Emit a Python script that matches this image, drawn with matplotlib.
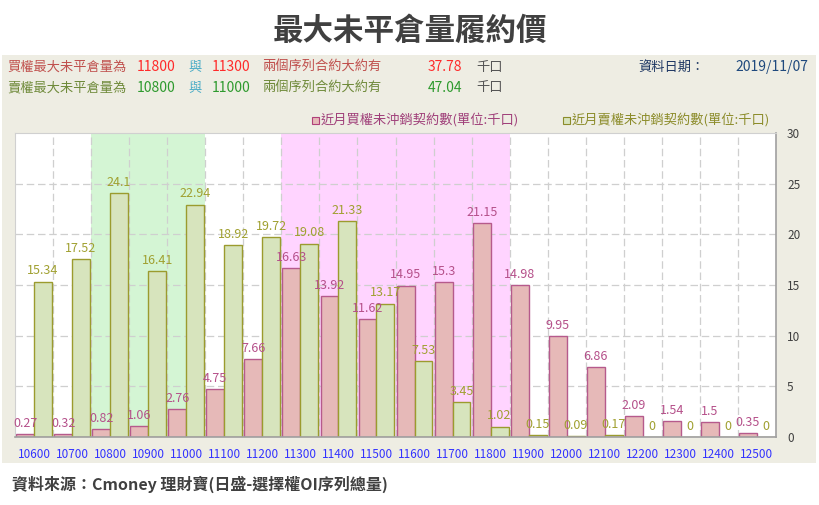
import numpy as np
import matplotlib
matplotlib.use("Agg")
import matplotlib.pyplot as plt
from matplotlib.patches import Rectangle

plt.rcParams['font.family'] = ['Noto Sans CJK TC', 'DejaVu Sans']

strikes = ['10600', '10700', '10800', '10900', '11000', '11100', '11200',
           '11300', '11400', '11500', '11600', '11700', '11800', '11900',
           '12000', '12100', '12200', '12300', '12400', '12500']
call_oi = [0.27, 0.32, 0.82, 1.06, 2.76, 4.75, 7.66, 16.63, 13.92, 11.62,
           14.95, 15.3, 21.15, 14.98, 9.95, 6.86, 2.09, 1.54, 1.5, 0.35]
put_oi = [15.34, 17.52, 24.1, 16.41, 22.94, 18.92, 19.72, 19.08, 21.33, 13.17,
          7.53, 3.45, 1.02, 0.15, 0.09, 0.17, 0, 0, 0, 0]

call_max = ('11800', '11300')
put_max = ('10800', '11000')
call_total, put_total = '37.78', '47.04'

W, H = 820, 505
fig = plt.figure(figsize=(W / 100, H / 100), dpi=100)


def px(x, y):
    return x / W, 1 - y / H


def txt(x, y, s, color, size=9.5, **kw):
    fig.text(*px(x, y), s, color=color, fontsize=size, va='center', **kw)


# beige panel behind the chart
fig.patches.append(Rectangle(px(2, 463), 814 / W, 408 / H, transform=fig.transFigure,
                             facecolor='#EEEDE3', edgecolor='none', zorder=-5))

fig.text(0.5, px(0, 31)[1], '最大未平倉量履約價', ha='center', va='center',
         fontsize=22, fontweight='bold', color='#404040')

# header lines
red_txt, red_num = '#C0504D', '#FF2A2A'
grn_txt, grn_num = '#6F8A3A', '#2E9A2E'
txt(7, 67, '買權最大未平倉量為', red_txt)
txt(137, 67, call_max[0], red_num, 10)
txt(188, 67, '與', '#4BACC6')
txt(212, 67, call_max[1], red_num, 10)
txt(262, 67, '兩個序列合約大約有', red_txt)
txt(428, 67, call_total, red_num, 10)
txt(476, 67, '千口', '#555555')
txt(638, 67, '資料日期：', '#1F3864')
txt(735, 67, '2019/11/07', '#1F497D', 10)

txt(7, 88, '賣權最大未平倉量為', grn_txt)
txt(137, 88, put_max[0], grn_num, 10)
txt(188, 88, '與', '#4BACC6')
txt(212, 88, put_max[1], grn_num, 10)
txt(262, 88, '兩個序列合約大約有', grn_txt)
txt(428, 88, put_total, grn_num, 10)
txt(476, 88, '千口', '#555555')

# legend
fig.patches.append(Rectangle(px(312, 124), 7 / W, 7 / H, transform=fig.transFigure,
                             facecolor='#E6B9B8', edgecolor='#B0407A', lw=0.8))
txt(321, 120, '近月買權未沖銷契約數(單位:千口)', '#A0407A', 9.5)
fig.patches.append(Rectangle(px(563, 124), 7 / W, 7 / H, transform=fig.transFigure,
                             facecolor='#D7E4BD', edgecolor='#8C8C2A', lw=0.8))
txt(572, 120, '近月賣權未沖銷契約數(單位:千口)', '#8C8C2A', 9.5)

txt(12, 484, '資料來源：Cmoney 理財寶(日盛-選擇權OI序列總量)', '#404040', 11.5,
    fontweight='bold')

# plot area
l, b = px(15, 437)
ax = fig.add_axes([l, b, (776 - 15) / W, (437 - 133) / H], zorder=2)
ax.set_facecolor('white')

x = np.arange(len(strikes))
pi = sorted(strikes.index(s) for s in put_max)
ci = sorted(strikes.index(s) for s in call_max)
ax.axvspan(pi[0] - 0.5, pi[1] + 0.5, color='#D4F5D4', zorder=0, lw=0)
ax.axvspan(ci[0] - 0.5, ci[1] + 0.5, color='#FFD4FF', zorder=0, lw=0)

for xv in np.arange(0.5, len(strikes) - 1, 1):
    ax.axvline(xv, color='#CFCFCF', ls=(0, (6, 3)), lw=0.9, zorder=1)
for yv in range(5, 30, 5):
    ax.axhline(yv, color='#CFCFCF', ls=(0, (6, 3)), lw=0.9, zorder=1)

bw = 0.47
ax.bar(x - bw / 2, call_oi, bw, color='#E6B9B8', edgecolor='#B65A8C', lw=1, zorder=2)
ax.bar(x + bw / 2, put_oi, bw, color='#D7E4BD', edgecolor='#9B9B2E', lw=1, zorder=2)

for xi, v in zip(x, call_oi):
    ax.annotate(f'{v:g}', (xi - bw / 2, v), xytext=(0, 3), textcoords='offset points',
                ha='center', va='bottom', color='#B5508A', fontsize=9, zorder=3)
for xi, v in zip(x, put_oi):
    ax.annotate(f'{v:g}', (xi + bw / 2, v), xytext=(0, 3), textcoords='offset points',
                ha='center', va='bottom', color='#A0A030', fontsize=9, zorder=3)

ax.set_xlim(-0.5, len(strikes) - 0.5)
ax.set_ylim(0, 30)
ax.set_xticks(x)
ax.set_xticklabels(strikes, color='#3333FF', fontsize=8.5)
ax.set_yticks(range(0, 31, 5))
ax.yaxis.tick_right()
ax.tick_params(axis='y', length=0, pad=8, labelsize=8.5, labelcolor='#404040')
ax.tick_params(axis='x', length=0, pad=8)
for side in ['top', 'left']:
    ax.spines[side].set_color('#D0D0D0')
for side in ['bottom', 'right']:
    ax.spines[side].set_color('#A0A0A0')
    ax.spines[side].set_linewidth(1.2)

fig.savefig('out.png', dpi=100)
